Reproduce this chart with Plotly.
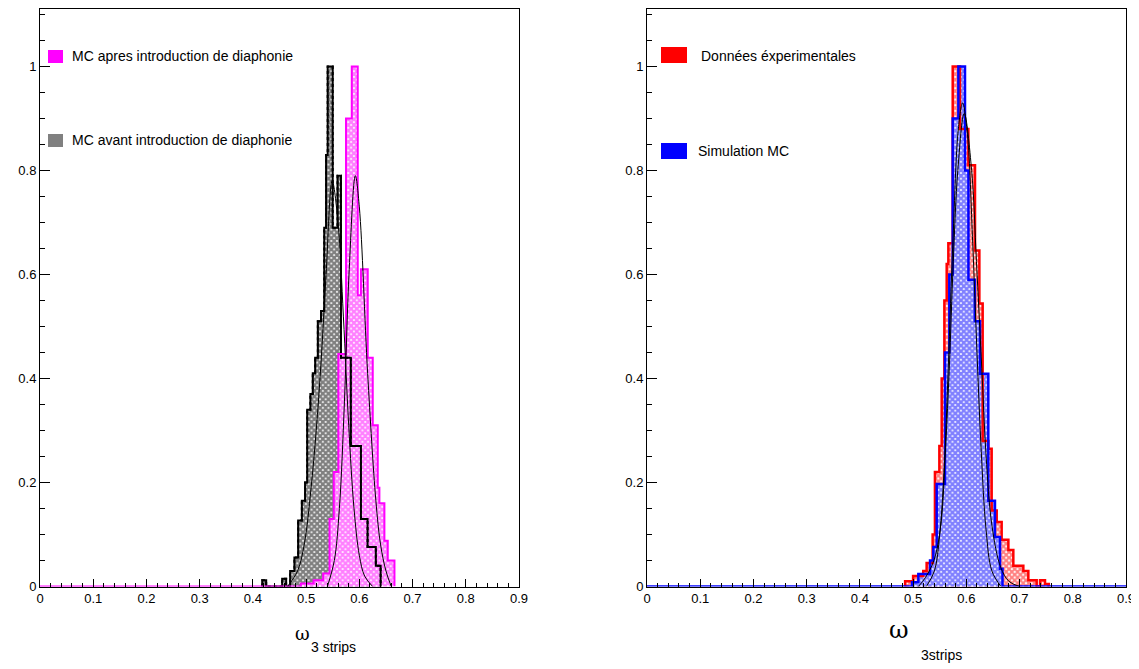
import plotly.graph_objects as go

# ---------------- data ----------------
# Left panel: "MC avant introduction de diaphonie" (black), "MC apres introduction de diaphonie" (magenta)
black_edges = [0.4175, 0.425, 0.455, 0.4625, 0.47, 0.478, 0.485, 0.492, 0.498, 0.502, 0.508, 0.5125,
               0.517, 0.522, 0.528, 0.534, 0.5375, 0.5405, 0.55, 0.559, 0.5655, 0.584, 0.603, 0.6155,
               0.631, 0.64]
black_heights = [0.012, 0.0, 0.015, 0.0, 0.03, 0.056, 0.127, 0.165, 0.2, 0.34, 0.37, 0.41, 0.44, 0.51,
                 0.53, 0.69, 0.83, 1.0, 0.69, 0.79, 0.44, 0.27, 0.13, 0.076, 0.04]

magenta_edges = [0.49, 0.514, 0.532, 0.544, 0.552, 0.5606, 0.575, 0.5858, 0.597, 0.603, 0.6158,
                 0.6252, 0.6346, 0.6377, 0.6471, 0.6534, 0.666]
magenta_heights = [0.006, 0.012, 0.025, 0.13, 0.22, 0.447, 0.90, 1.0, 0.56, 0.61, 0.44, 0.31, 0.19,
                   0.16, 0.088, 0.05]

black_fit_x = [0.465, 0.484, 0.497, 0.509, 0.519, 0.528, 0.5375, 0.549, 0.56, 0.57, 0.58, 0.59, 0.60,
               0.61, 0.625]
black_fit_y = [0.0, 0.03, 0.084, 0.186, 0.3, 0.43, 0.6, 0.78, 0.7, 0.52, 0.31, 0.15, 0.06, 0.02, 0.0]

magenta_fit_x = [0.54, 0.553, 0.5625, 0.572, 0.581, 0.5925, 0.60, 0.6156, 0.631, 0.64, 0.65, 0.66]
magenta_fit_y = [0.0, 0.05, 0.15, 0.355, 0.61, 0.79, 0.73, 0.41, 0.166, 0.08, 0.03, 0.0]

# Right panel: "Données éxperimentales" (red), "Simulation MC" (blue)
red_edges = [0.485, 0.50, 0.519, 0.5254, 0.5367, 0.541, 0.5493, 0.5537, 0.5587, 0.5631, 0.5662,
             0.5744, 0.588, 0.6038, 0.6163, 0.6245, 0.6307, 0.6414, 0.6476, 0.6571, 0.6664, 0.679,
             0.6883, 0.7071, 0.7165, 0.7322, 0.7385, 0.7478, 0.755]
red_heights = [0.01, 0.02, 0.03, 0.045, 0.10, 0.22, 0.27, 0.40, 0.55, 0.62, 0.66, 1.0, 0.88, 0.81,
               0.646, 0.544, 0.28, 0.265, 0.146, 0.124, 0.09, 0.07, 0.04, 0.03, 0.012, 0.0, 0.012,
               0.005]

blue_edges = [0.498, 0.5098, 0.5318, 0.538, 0.5443, 0.5599, 0.568, 0.5744, 0.585, 0.5975, 0.604,
              0.616, 0.6257, 0.6413, 0.6538, 0.6633, 0.668]
blue_heights = [0.008, 0.024, 0.05, 0.076, 0.197, 0.45, 0.60, 0.90, 1.0, 0.80, 0.59, 0.51, 0.409,
                0.165, 0.095, 0.034]

red_fit_x = [0.51, 0.523, 0.539, 0.552, 0.561, 0.568, 0.5755, 0.584, 0.596, 0.61, 0.619, 0.629,
             0.637, 0.648, 0.6645, 0.68, 0.70]
red_fit_y = [0.0, 0.017, 0.05, 0.118, 0.267, 0.42, 0.625, 0.80, 0.91, 0.80, 0.625, 0.42, 0.253,
             0.118, 0.037, 0.01, 0.0]

blue_fit_x = [0.525, 0.54, 0.55, 0.558, 0.566, 0.575, 0.585, 0.593, 0.602, 0.612, 0.62, 0.628,
              0.637, 0.648, 0.665]
blue_fit_y = [0.0, 0.03, 0.1, 0.22, 0.42, 0.67, 0.88, 0.93, 0.87, 0.66, 0.45, 0.26, 0.11, 0.03, 0.0]

x_tick_vals = [0, 0.1, 0.2, 0.3, 0.4, 0.5, 0.6, 0.7, 0.8, 0.9]
x_tick_text = ["0", "0.1", "0.2", "0.3", "0.4", "0.5", "0.6", "0.7", "0.8", "0.9"]
y_tick_vals = [0, 0.2, 0.4, 0.6, 0.8, 1.0]
y_tick_text = ["0", "0.2", "0.4", "0.6", "0.8", "1"]

left_labels = ["MC apres introduction de diaphonie", "MC avant introduction de diaphonie"]
right_labels = ["Données éxperimentales", "Simulation MC"]

# ---------------- figure ----------------
# the page body adds an 8 px margin, so the figure is 8 px smaller and window pixels are shifted
OFF = 8
W, H = 1139 - OFF, 669 - OFF
FONT = "Liberation Sans, Arial, sans-serif"


def px(x):
    return (x - OFF) / W


def py(y):
    return 1 - (y - OFF) / H


def step_xy(edges, heights, start=None, end=None):
    xs, ys = [], []
    if start is not None:
        xs.append(start); ys.append(0)
    xs.append(edges[0]); ys.append(0)
    for e, h in zip(edges[:-1], heights):
        xs.append(e); ys.append(h)
    xs.append(edges[-1]); ys.append(0)
    if end is not None:
        xs.append(end); ys.append(0)
    return xs, ys


def bars(edges, heights, color, xa, ya, solidity=0.6, size=4):
    centers = [(a + b) / 2 for a, b in zip(edges[:-1], edges[1:])]
    widths = [b - a for a, b in zip(edges[:-1], edges[1:])]
    return go.Bar(x=centers, y=heights, width=widths, xaxis=xa, yaxis=ya,
                  marker=dict(color="white", line=dict(width=0),
                              pattern=dict(shape="x", fgcolor=color, bgcolor="white",
                                           size=size, solidity=solidity, fillmode="overlay")),
                  showlegend=False, hoverinfo="skip")


def outline(edges, heights, color, xa, ya, width=2, dash="solid", start=None, end=None):
    xs, ys = step_xy(edges, heights, start, end)
    return go.Scatter(x=xs, y=ys, mode="lines", line=dict(color=color, width=width, shape="hv", dash=dash),
                      xaxis=xa, yaxis=ya, showlegend=False, hoverinfo="skip")


def fit(xs, ys, xa, ya):
    return go.Scatter(x=xs, y=ys, mode="lines", line=dict(color="black", width=1, shape="spline"),
                      xaxis=xa, yaxis=ya, showlegend=False, hoverinfo="skip")


fig = go.Figure()
# left panel
fig.add_trace(bars(black_edges, black_heights, "black", "x", "y", solidity=0.8))
fig.add_trace(outline(black_edges, black_heights, "black", "x", "y", width=2))
fig.add_trace(bars(magenta_edges, magenta_heights, "#ff00ff", "x", "y", solidity=0.8))
fig.add_trace(outline(black_edges, black_heights, "black", "x", "y", width=2, dash="dot"))
fig.add_trace(outline(magenta_edges, magenta_heights, "#ff00ff", "x", "y", width=2, start=0.0))
fig.add_trace(fit(black_fit_x, black_fit_y, "x", "y"))
fig.add_trace(fit(magenta_fit_x, magenta_fit_y, "x", "y"))
# right panel
fig.add_trace(bars(red_edges, red_heights, "#ff0000", "x2", "y2", solidity=0.75))
fig.add_trace(outline(red_edges, red_heights, "#ff0000", "x2", "y2", width=2.5))
fig.add_trace(bars(blue_edges, blue_heights, "#0000ff", "x2", "y2", solidity=0.8))
fig.add_trace(outline(blue_edges, blue_heights, "#0000ff", "x2", "y2", width=2.5, start=0.0, end=0.9))
fig.add_trace(fit(red_fit_x, red_fit_y, "x2", "y2"))
fig.add_trace(fit(blue_fit_x, blue_fit_y, "x2", "y2"))

y_top = (586.5 - 9) / 520.0
xax = dict(range=[0, 0.9], tickvals=x_tick_vals, ticktext=x_tick_text, ticks="inside", ticklen=8,
           tickcolor="black", showline=True, linecolor="black", linewidth=1, mirror=True,
           showgrid=False, zeroline=False, automargin=False,
           tickfont=dict(family=FONT, size=13, color="black"),
           minor=dict(dtick=0.02, ticks="inside", ticklen=4, tickcolor="black", showgrid=False))
yax = dict(range=[0, y_top], tickvals=y_tick_vals, ticktext=y_tick_text, ticks="inside", ticklen=10,
           tickcolor="black", showline=True, linecolor="black", linewidth=1, mirror=True,
           showgrid=False, zeroline=False, automargin=False,
           tickfont=dict(family=FONT, size=13, color="black"),
           minor=dict(dtick=0.05, ticks="inside", ticklen=5, tickcolor="black", showgrid=False))

ydom = [py(586.5), py(9)]
fig.update_layout(
    width=W, height=H, margin=dict(l=0, r=0, t=0, b=0, autoexpand=False),
    paper_bgcolor="white", plot_bgcolor="white",
    barmode="overlay", bargap=0, showlegend=False,
    xaxis=dict(xax, domain=[px(40), px(519)], anchor="y"),
    yaxis=dict(yax, domain=ydom, anchor="x"),
    xaxis2=dict(xax, domain=[px(647), px(1126)], anchor="y2"),
    yaxis2=dict(yax, domain=ydom, anchor="x2"),
)

# legends (boxes + labels)
shapes = [
    dict(type="rect", xref="paper", yref="paper", x0=px(48), x1=px(63), y0=py(63), y1=py(50),
         fillcolor="#ff00ff", line=dict(width=0)),
    dict(type="rect", xref="paper", yref="paper", x0=px(48), x1=px(63), y0=py(147), y1=py(134),
         fillcolor="#808080", line=dict(width=0)),
    dict(type="rect", xref="paper", yref="paper", x0=px(661), x1=px(687), y0=py(63), y1=py(47),
         fillcolor="#ff0000", line=dict(width=0)),
    dict(type="rect", xref="paper", yref="paper", x0=px(661), x1=px(687), y0=py(159), y1=py(143),
         fillcolor="#0000ff", line=dict(width=0)),
]
fig.update_layout(shapes=shapes)

ann = [
    dict(x=px(70), y=py(56), text=left_labels[0], font=dict(family=FONT, size=14)),
    dict(x=px(70), y=py(140), text=left_labels[1], font=dict(family=FONT, size=14)),
    dict(x=px(699), y=py(56), text=right_labels[0], font=dict(family=FONT, size=14)),
    dict(x=px(696), y=py(151), text=right_labels[1], font=dict(family=FONT, size=14)),
    dict(x=px(293), y=py(633), text="ω", font=dict(family="DejaVu Serif, serif", size=18)),
    dict(x=px(309), y=py(647), text="3 strips", font=dict(family=FONT, size=14)),
    dict(x=px(887), y=py(630), text="ω", font=dict(family="DejaVu Serif, serif", size=24)),
    dict(x=px(919), y=py(655), text="3strips", font=dict(family=FONT, size=14)),
]
for a in ann:
    a.update(xref="paper", yref="paper", xanchor="left", yanchor="middle", showarrow=False)
    a["font"]["color"] = "black"
fig.update_layout(annotations=ann)

fig.write_html("out.html")
